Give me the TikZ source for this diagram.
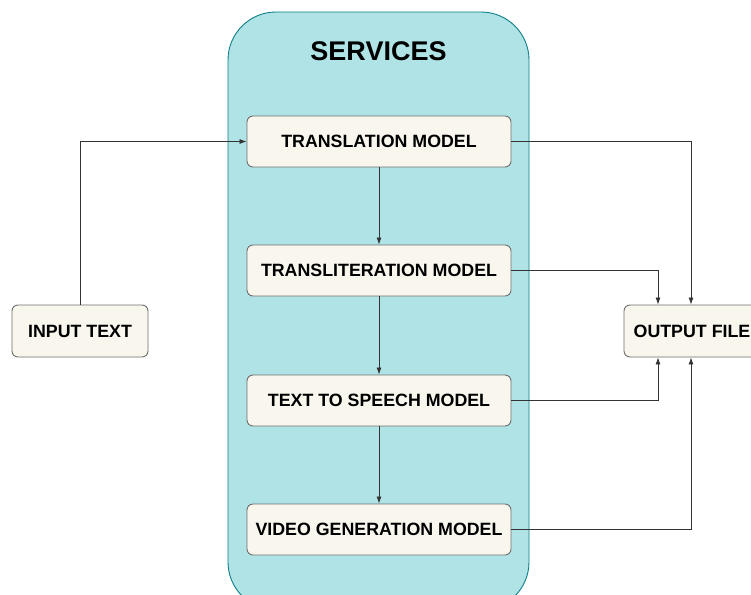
\documentclass[tikz,border=0pt]{standalone}
\usepackage{fontspec}
\setmainfont{Liberation Sans}
\usetikzlibrary{arrows.meta}
\definecolor{contfill}{HTML}{B0E3E6}
\definecolor{contline}{HTML}{0E8088}
\definecolor{boxfill}{HTML}{F9F7ED}
\definecolor{boxline}{HTML}{6E6E6E}
\definecolor{wire}{HTML}{333333}
\tikzset{
  stepbox/.style={draw=boxline, fill=boxfill, rounded corners=6pt, line width=0.9pt,
    minimum width=264pt, minimum height=51pt, inner sep=0pt,
    font=\fontsize{17.8pt}{20pt}\selectfont\bfseries},
  sidebox/.style={stepbox, minimum width=136pt, minimum height=52pt},
  wire/.style={draw=wire, line width=0.8pt, -{Latex[length=7pt,width=5pt]}}
}
\begin{document}
\begin{tikzpicture}[x=1pt,y=-1pt]
\clip (0,0) rectangle (751,594);
\fill[white] (0,0) rectangle (751,594);
\path[draw=contline, fill=contfill, line width=0.9pt, rounded corners=48pt]
  (228,12) rectangle (529,610);
\node[font=\fontsize{27pt}{30pt}\selectfont\bfseries] (title) at (378.5,51) {SERVICES};
\node[stepbox] (tr) at (379,141.5) {TRANSLATION MODEL};
\node[stepbox] (tl) at (379,270.5) {TRANSLITERATION MODEL};
\node[stepbox] (tts) at (379,400.5) {TEXT TO SPEECH MODEL};
\node[stepbox] (vg) at (379,529.5) {VIDEO GENERATION MODEL};
\node[sidebox] (in) at (80,331) {INPUT TEXT};
\node[sidebox] (out) at (692,331) {OUTPUT FILE};
\draw[wire] (in.north) |- (tr.west);
\draw[wire] (tr.south) -- (tl.north);
\draw[wire] (tl.south) -- (tts.north);
\draw[wire] (tts.south) -- (vg.north);
\draw[wire] (tr.east) -| ([xshift=-1pt]out.north);
\draw[wire] (tl.east) -| ([xshift=-34pt]out.north);
\draw[wire] (tts.east) -| ([xshift=-34pt]out.south);
\draw[wire] (vg.east) -| ([xshift=-1pt]out.south);
\end{tikzpicture}
\end{document}
